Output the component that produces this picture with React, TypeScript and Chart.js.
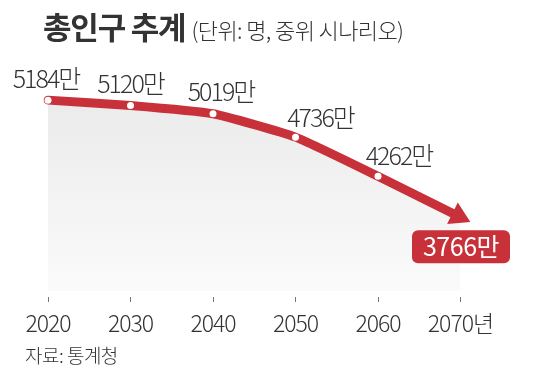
import React, { useEffect, useRef } from 'react';
import { Chart, registerables } from 'chart.js';

Chart.register(...registerables);

const years = ['2020', '2030', '2040', '2050', '2060', '2070'];
const population = [5184, 5120, 5019, 4736, 4262, 3766];
const valueLabels = ['5184만', '5120만', '5019만', '4736만', '4262만', '3766만'];
const lastTickSuffix = '년';
const titleText = '총인구 추계';
const subtitleText = '(단위: 명, 중위 시나리오)';
const sourceText = '자료: 통계청';

const RED = '#c8313a';
const TEXT = '#333333';
const FONT = '"Noto Sans CJK KR", "Noto Sans", sans-serif';
// label placement relative to each point [dx, dy of baseline]
const labelOffsets = [
  [-2, -12],
  [0, -12],
  [8, -13],
  [25, -10],
  [21, -11],
];

const spacingPlugin = {
  id: 'spacing',
  beforeDraw(chart: any) {
    (chart.ctx as any).letterSpacing = '-1px';
  },
};

const annotatePlugin = {
  id: 'annotate',
  afterDatasetsDraw(chart: any) {
    const meta = chart.getDatasetMeta(0);
    const pts = meta.data;
    const ctx: CanvasRenderingContext2D = chart.ctx;
    const last = pts.length - 1;
    const p = pts[last];
    const q = pts[last - 1];
    const dx = p.x - q.x;
    const dy = p.y - q.y;
    const len = Math.hypot(dx, dy);
    const ux = dx / len;
    const uy = dy / len;
    const px = -uy;
    const py = ux;
    ctx.save();
    // arrow head
    const tipX = p.x + 11 * ux;
    const tipY = p.y + 11 * uy;
    const bx = p.x - 9 * ux;
    const by = p.y - 9 * uy;
    ctx.fillStyle = RED;
    ctx.beginPath();
    ctx.moveTo(tipX, tipY);
    ctx.lineTo(bx + 12 * px, by + 12 * py);
    ctx.lineTo(bx - 12 * px, by - 12 * py);
    ctx.closePath();
    ctx.fill();

    // value labels
    ctx.font = `300 25px ${FONT}`;
    (ctx as any).letterSpacing = '-2px';
    ctx.textAlign = 'center';
    ctx.textBaseline = 'alphabetic';
    ctx.fillStyle = TEXT;
    for (let i = 0; i < last; i++) {
      const pt = pts[i];
      const [ox, oy] = labelOffsets[i];
      ctx.fillText(valueLabels[i], pt.x + ox, pt.y + oy);
    }

    // boxed final label
    const cx = p.x + 0.5;
    const cy = p.y + 29.5;
    const w = 98;
    const h = 33;
    ctx.fillStyle = RED;
    ctx.beginPath();
    (ctx as any).roundRect(cx - w / 2, cy - h / 2, w, h, 6);
    ctx.fill();
    ctx.font = `400 25px ${FONT}`;
    (ctx as any).letterSpacing = '-0.5px';
    ctx.fillStyle = '#ffffff';
    ctx.fillText(valueLabels[last], cx, cy + 9);
    ctx.restore();
  },
};

export default function App() {
  const ref = useRef<HTMLCanvasElement | null>(null);

  useEffect(() => {
    if (!ref.current) return;
    const chart = new Chart(ref.current, {
      type: 'line',
      data: {
        labels: years,
        datasets: [
          {
            data: population,
            borderColor: RED,
            borderWidth: 9,
            borderCapStyle: 'round',
            borderJoinStyle: 'round',
            tension: 0.15,
            pointRadius: (c: any) => (c.dataIndex === population.length - 1 ? 0 : 3.5),
            pointHoverRadius: 0,
            pointBackgroundColor: '#ffffff',
            pointBorderWidth: 0,
            fill: { value: 2873 },
            backgroundColor: (c: any) => {
              const { chart: ch } = c;
              const area = ch.chartArea;
              if (!area) return '#eeeeee';
              const g = ch.ctx.createLinearGradient(0, area.top + 40, 0, area.bottom);
              g.addColorStop(0, '#ebebeb');
              g.addColorStop(1, '#fbfbfb');
              return g;
            },
          } as any,
        ],
      },
      options: {
        responsive: false,
        animation: false,
        events: [],
        layout: { padding: { left: 48, right: 73.5, top: 60, bottom: 0 } },
        plugins: {
          legend: { display: false },
          tooltip: { enabled: false },
        },
        scales: {
          x: {
            type: 'category',
            offset: false,
            grid: { drawOnChartArea: false, drawTicks: true, tickLength: 5, color: '#777777' },
            border: { display: false },
            ticks: {
              color: TEXT,
              font: { family: FONT, size: 23, weight: '300' },
              padding: 7,
              maxRotation: 0,
              autoSkip: false,
              callback: (_v: any, i: number) =>
                i === years.length - 1 ? years[i] + lastTickSuffix : years[i],
            },
            afterFit: (s: any) => {
              s.height = 82;
            },
          },
          y: { display: false, min: 2800, max: 5670 },
        },
      },
      plugins: [spacingPlugin, annotatePlugin],
    });
    return () => chart.destroy();
  }, []);

  return (
    <div style={{ position: 'absolute', left: 0, top: 0, width: 534, height: 379, background: '#fff', overflow: 'hidden' }}>
      <canvas ref={ref} width={534} height={379} style={{ position: 'absolute', left: 0, top: 0 }} />
      <div
        style={{
          position: 'absolute',
          left: 43,
          top: 7,
          display: 'flex',
          alignItems: 'baseline',
          fontFamily: FONT,
          color: TEXT,
          whiteSpace: 'nowrap',
          lineHeight: 1.2,
        }}
      >
        <span style={{ fontWeight: 700, fontSize: 31, letterSpacing: '-1.2px' }}>{titleText}</span>
        <span style={{ fontSize: 22, fontWeight: 300, marginLeft: 6, letterSpacing: '-0.6px' }}>{subtitleText}</span>
      </div>
      <div
        style={{
          position: 'absolute',
          left: 25,
          top: 344,
          fontFamily: FONT,
          color: TEXT,
          fontSize: 19,
          fontWeight: 300,
          lineHeight: 1.2,
          whiteSpace: 'nowrap',
          letterSpacing: '-0.5px',
        }}
      >
        {sourceText}
      </div>
    </div>
  );
}
